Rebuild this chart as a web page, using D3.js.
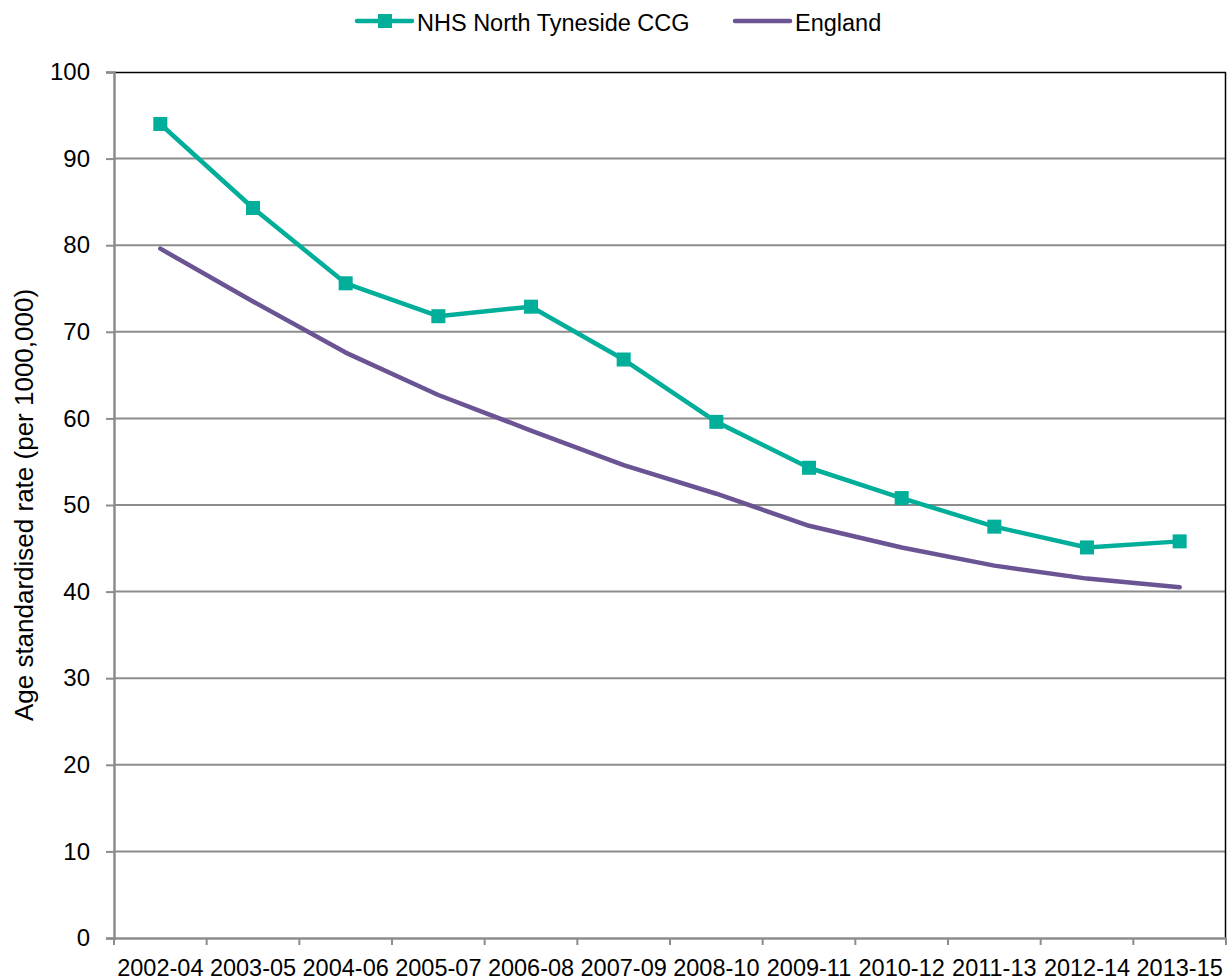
<!DOCTYPE html>
<html>
<head>
<meta charset="utf-8">
<script src="https://cdn.jsdelivr.net/npm/d3@7"></script>
<style>
  body { margin: 0; background: #fff; }
  text { font-family: "Liberation Sans", Arial, sans-serif; fill: #000; }
</style>
</head>
<body>
<div id="chart"></div>
<script>
// Données
const periods = ["2002-04", "2003-05", "2004-06", "2005-07", "2006-08", "2007-09",
                 "2008-10", "2009-11", "2010-12", "2011-13", "2012-14", "2013-15"];
const nhsValues = [94.0, 84.3, 75.6, 71.8, 72.9, 66.8, 59.6, 54.3, 50.8, 47.5, 45.1, 45.8];
const englandValues = [79.6, 73.5, 67.6, 62.7, 58.6, 54.6, 51.3, 47.6, 45.1, 43.0, 41.5, 40.5];
const yTicks = [0, 10, 20, 30, 40, 50, 60, 70, 80, 90, 100];

const W = 1228, H = 980;
const margin = { top: 72, right: 2, bottom: 42, left: 114 };
const width = W - margin.left - margin.right,
      height = H - margin.top - margin.bottom;

const tealColor = "#00AE9A", purpleColor = "#6B5494", gridColor = "#8c8c8c";

const svg = d3.select("#chart").append("svg")
    .attr("width", W)
    .attr("height", H);

const g = svg.append("g")
    .attr("transform", `translate(${margin.left},${margin.top})`);

// Échelles
const x = d3.scaleBand().domain(periods).range([0, width]);
const y = d3.scaleLinear().domain([0, 100]).range([height, 0]);

// Grille
g.selectAll(".grid")
    .data(yTicks.filter(d => d > 0 && d < 100))
    .enter().append("line")
    .attr("x1", 0).attr("x2", width)
    .attr("y1", d => y(d)).attr("y2", d => y(d))
    .attr("stroke", gridColor).attr("stroke-width", 2);

// Cadre haut et droite
g.append("line").attr("x1", 0).attr("x2", width).attr("y1", 0.5).attr("y2", 0.5)
    .attr("stroke", "#000").attr("stroke-width", 1.5);
g.append("line").attr("x1", width - 0.5).attr("x2", width - 0.5).attr("y1", 0).attr("y2", height)
    .attr("stroke", "#000").attr("stroke-width", 1.5);

// Axe Y
const yAxis = g.append("g")
    .call(d3.axisLeft(y).tickValues(yTicks).tickSize(8).tickPadding(16));
yAxis.select(".domain").attr("stroke", gridColor).attr("stroke-width", 2.5);
yAxis.selectAll(".tick line").attr("stroke", gridColor).attr("stroke-width", 2);
yAxis.selectAll(".tick text").style("font-size", "24px").attr("fill", "#000");

// Axe X
const xAxis = g.append("g")
    .attr("transform", `translate(0,${height})`)
    .call(d3.axisBottom(x).tickSize(0).tickPadding(21));
xAxis.select(".domain").attr("stroke", gridColor).attr("stroke-width", 2.5);
xAxis.selectAll(".tick text").style("font-size", "23.5px").attr("fill", "#000");
xAxis.selectAll(".boundary")
    .data(d3.range(periods.length + 1))
    .enter().append("line")
    .attr("class", "boundary")
    .attr("x1", i => i * x.step()).attr("x2", i => i * x.step())
    .attr("y1", 0).attr("y2", 7)
    .attr("stroke", gridColor).attr("stroke-width", 2);

// Titre Y
svg.append("text")
    .attr("transform", `translate(33,${margin.top + height / 2}) rotate(-90)`)
    .attr("text-anchor", "middle")
    .style("font-size", "26px")
    .text("Age standardised rate (per 1000,000)");

// Lignes
const cx = d => x(d) + x.bandwidth() / 2;
const line = d3.line().x((d, i) => cx(periods[i])).y(d => y(d));

g.append("path").datum(englandValues)
    .attr("fill", "none").attr("stroke", purpleColor).attr("stroke-width", 4.5)
    .attr("stroke-linecap", "round").attr("stroke-linejoin", "round")
    .attr("d", line);

g.append("path").datum(nhsValues)
    .attr("fill", "none").attr("stroke", tealColor).attr("stroke-width", 4.5)
    .attr("stroke-linejoin", "round")
    .attr("d", line);

const ms = 14;
g.selectAll(".marker").data(nhsValues).enter().append("rect")
    .attr("class", "marker")
    .attr("x", (d, i) => cx(periods[i]) - ms / 2)
    .attr("y", d => y(d) - ms / 2)
    .attr("width", ms).attr("height", ms)
    .attr("fill", tealColor);

// Légende
const legendItems = [
    { label: "NHS North Tyneside CCG", color: tealColor, marker: true, x: 357 },
    { label: "England", color: purpleColor, marker: false, x: 735 }
];
const legend = svg.selectAll(".legend").data(legendItems).enter().append("g")
    .attr("class", "legend")
    .attr("transform", d => `translate(${d.x},21)`);
legend.append("line")
    .attr("x1", 0).attr("x2", 55).attr("y1", 0).attr("y2", 0)
    .attr("stroke", d => d.color).attr("stroke-width", 4.5).attr("stroke-linecap", "round");
legend.filter(d => d.marker).append("rect")
    .attr("x", 28 - ms / 2).attr("y", -ms / 2).attr("width", ms).attr("height", ms)
    .attr("fill", d => d.color);
legend.append("text")
    .attr("x", 60).attr("y", 10)
    .style("font-size", "23.5px")
    .text(d => d.label);
</script>
</body>
</html>
